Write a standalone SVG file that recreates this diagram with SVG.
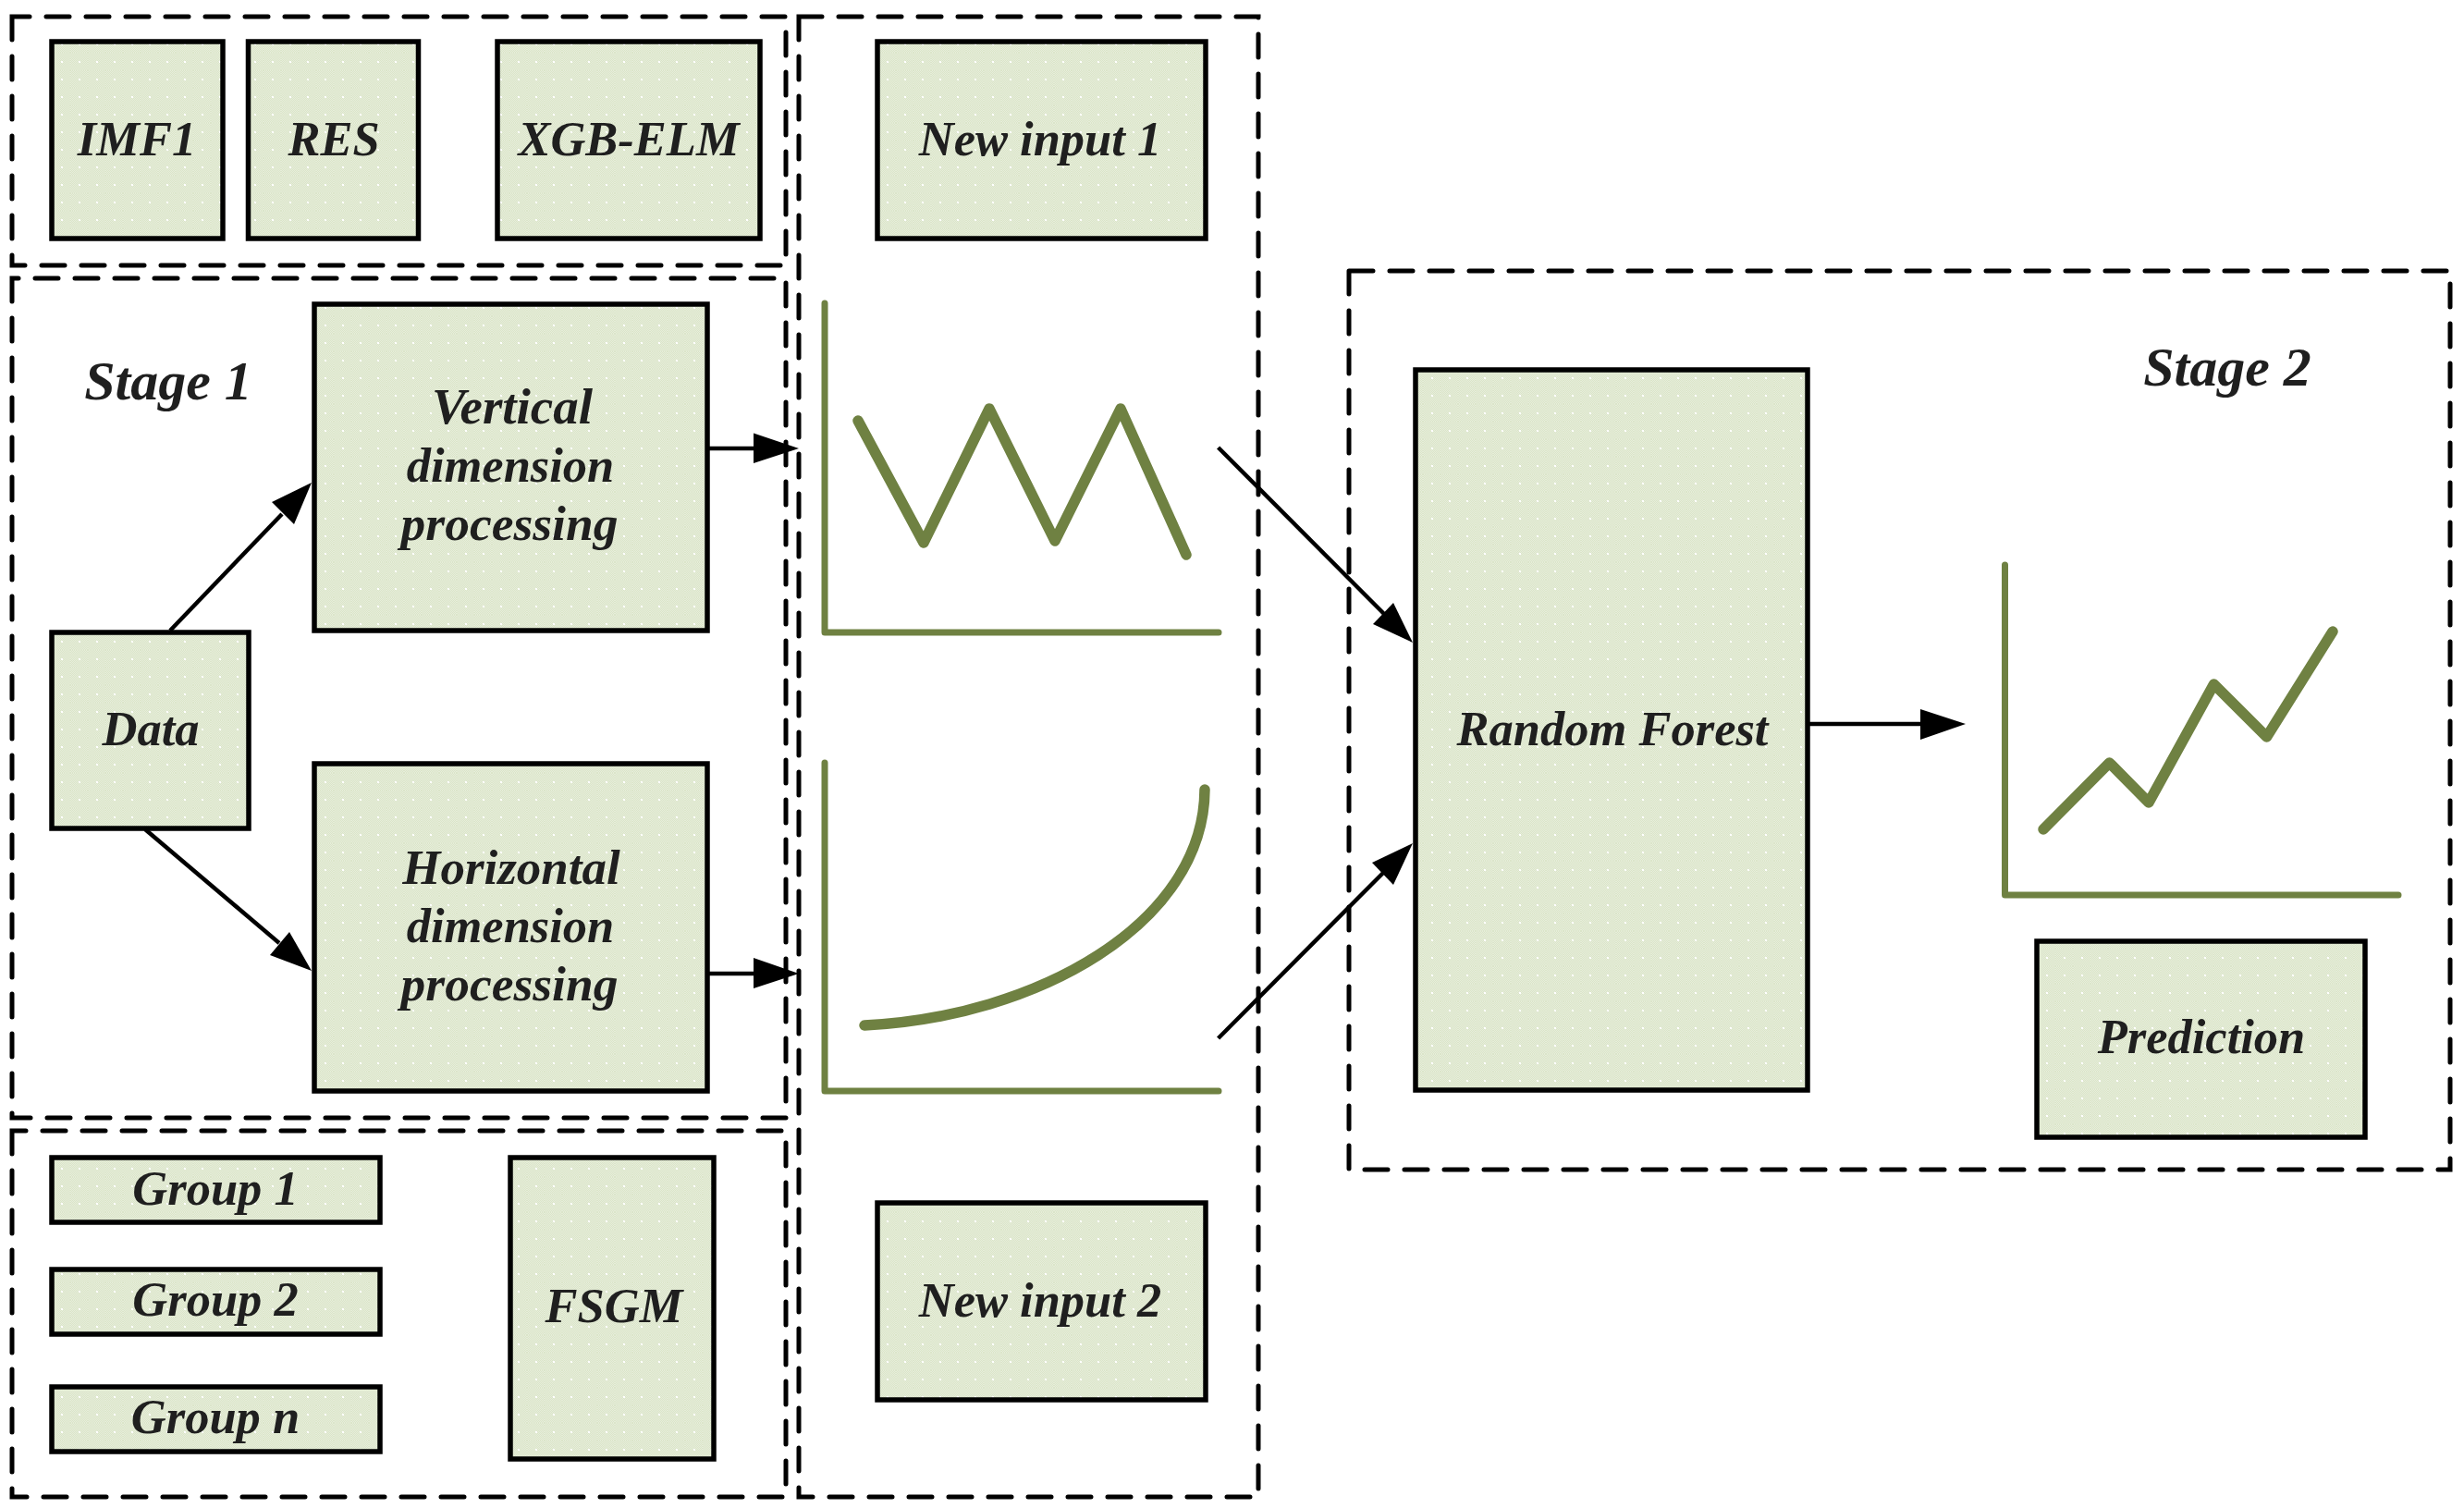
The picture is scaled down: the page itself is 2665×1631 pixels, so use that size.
<svg xmlns="http://www.w3.org/2000/svg" width="2665" height="1631" viewBox="0 0 2665 1631">
<style>
.frame{fill:none;stroke:#000;stroke-width:5;stroke-dasharray:25 18;stroke-linecap:round}
.box{fill:url(#dither);stroke:#000;stroke-width:5.5}
.lbl{font-family:"Liberation Serif","Times New Roman",serif;font-weight:bold;font-style:italic;font-size:52.500px;fill:#1f1f1f;text-anchor:middle}
.big{font-size:60px}
.axis{fill:none;stroke:#6f8142;stroke-width:7;stroke-linecap:round;stroke-linejoin:round}
.curve{fill:none;stroke:#6f8142;stroke-width:11.500;stroke-linecap:round;stroke-linejoin:round}
.link{fill:none;stroke:#000;stroke-width:4.500}
.head{fill:#000;stroke:none}
</style>
<defs>
<pattern id="checker" width="2" height="2" patternUnits="userSpaceOnUse">
<rect width="2" height="2" fill="#e6edda"/>
<rect width="1" height="1" fill="#dbe5c9"/>
<rect x="1" y="1" width="1" height="1" fill="#dbe5c9"/>
</pattern>
<pattern id="dither" width="19" height="19" patternUnits="userSpaceOnUse">
<rect width="19" height="19" fill="url(#checker)"/>
<rect x="9" y="9" width="2" height="2" fill="#fff"/>
</pattern>
</defs>
<rect width="2665" height="1631" fill="#fff"/>
<g id="frames">
<path class="frame" d="M13 18V287H850V18Z"/>
<path class="frame" d="M13 301V1209H850V301Z"/>
<path class="frame" d="M13 1223V1619H850V1223Z"/>
<path class="frame" d="M864 18V1619H1361V18Z"/>
<path class="frame" d="M1459 293V1265H2650V293Z"/>
</g>
<g id="n-imf1"><rect class="box" x="56" y="45" width="185" height="213"/><text class="lbl" x="148" y="168">IMF1</text></g>
<g id="n-res"><rect class="box" x="268.500" y="45" width="184" height="213"/><text class="lbl" x="361" y="168">RES</text></g>
<g id="n-xgb"><rect class="box" x="538" y="45" width="284" height="213"/><text class="lbl" x="680" y="168">XGB-ELM</text></g>
<g id="n-input1"><rect class="box" x="949" y="45" width="355" height="213"/><text class="lbl" x="1125" y="168">New input 1</text></g>
<g id="n-stage1"><text class="lbl big" x="182" y="432">Stage 1</text></g>
<g id="n-vertical"><rect class="box" x="340" y="329" width="425" height="353"/><text class="lbl" x="554" y="458" style="font-size:55px">Vertical</text><text class="lbl" x="552" y="521">dimension</text><text class="lbl" x="551" y="584" style="font-size:53.500px">processing</text></g>
<g id="n-data"><rect class="box" x="56" y="684" width="213" height="212"/><text class="lbl" x="163" y="806">Data</text></g>
<g id="n-horizontal"><rect class="box" x="340" y="826" width="425" height="354"/><text class="lbl" x="553" y="956" style="font-size:53px">Horizontal</text><text class="lbl" x="552" y="1019">dimension</text><text class="lbl" x="551" y="1082" style="font-size:53.500px">processing</text></g>
<g id="n-group1"><rect class="box" x="56" y="1252" width="355" height="70"/><text class="lbl" x="233" y="1303">Group 1</text></g>
<g id="n-group2"><rect class="box" x="56" y="1373" width="355" height="70"/><text class="lbl" x="233" y="1423">Group 2</text></g>
<g id="n-groupn"><rect class="box" x="56" y="1500" width="355" height="70"/><text class="lbl" x="233" y="1550">Group n</text></g>
<g id="n-fsgm"><rect class="box" x="552" y="1252" width="220" height="326"/><text class="lbl" x="664" y="1430">FSGM</text></g>
<g id="n-input2"><rect class="box" x="949" y="1301" width="355" height="213"/><text class="lbl" x="1125" y="1424">New input 2</text></g>
<g id="n-rf"><rect class="box" x="1531" y="400" width="424" height="779"/><text class="lbl" x="1744" y="806">Random Forest</text></g>
<g id="n-stage2"><text class="lbl big" x="2409" y="417">Stage 2</text></g>
<g id="n-prediction"><rect class="box" x="2203" y="1018" width="355" height="212"/><text class="lbl" x="2381" y="1139">Prediction</text></g>
<g id="chart1"><path class="axis" d="M892 328V684H1318"/><path class="curve" d="M928 455L999 587L1070 442L1141 585L1212 442L1283 600"/></g>
<g id="chart2"><path class="axis" d="M892 825V1180H1318"/><path class="curve" d="M935 1109C1120 1100 1302 1000 1303 854"/></g>
<g id="chart3"><path class="axis" d="M2168.500 611V968H2594"/><path class="curve" d="M2210 897L2281.500 825L2324 868L2394.500 740L2451.600 797L2523 683"/></g>
<g id="connectors">
<path class="link" d="M184 682L305 556"/><polygon class="head" points="337,522 294,543 318,567"/>
<path class="link" d="M157 897L302 1020"/><polygon class="head" points="337,1050 313,1008 292,1033"/>
<path class="link" d="M765 485H820"/><polygon class="head" points="864,485 815,468.500 815,501"/>
<path class="link" d="M765 1053H820"/><polygon class="head" points="864,1053 815,1036 815,1069"/>
<path class="link" d="M1317.600 484L1497 664"/><polygon class="head" points="1528,695 1507,652 1485,675"/>
<path class="link" d="M1317.600 1123L1497 943"/><polygon class="head" points="1528,912 1484,933 1507,957"/>
<path class="link" d="M1955 783H2080"/><polygon class="head" points="2126,783 2077,767 2077,800"/>
</g>
</svg>
